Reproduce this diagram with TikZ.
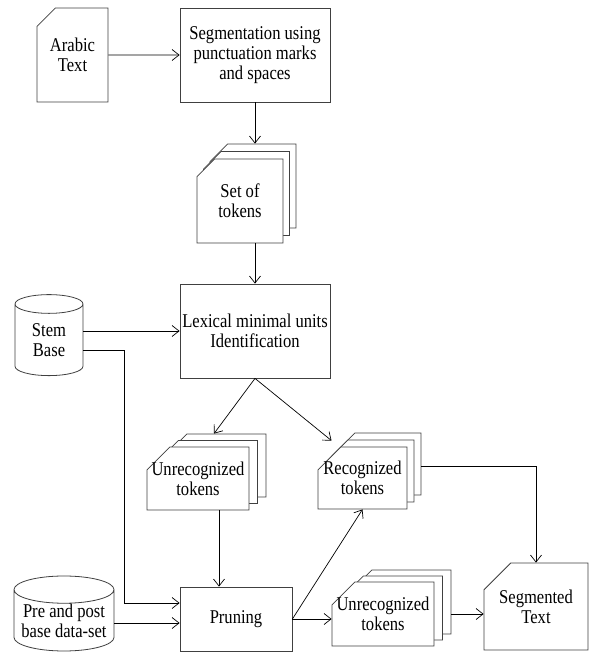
\documentclass[tikz,border=0pt]{standalone}
\usepackage{fontspec}
\setmainfont[FakeStretch=0.85]{Liberation Serif}
\usetikzlibrary{shapes.geometric,shapes.misc,shadows,arrows.meta,calc}
\begin{document}
\begin{tikzpicture}[x=1pt,y=-1pt,
    font=\fontsize{19.5}{20}\selectfont,
    box/.style={draw=black!75,line width=0.8pt,fill=white,align=center,inner sep=2pt},
    card/.style={box,chamfered rectangle,chamfered rectangle corners=north west,
        chamfered rectangle xsep=#1,inner xsep=-#1,inner ysep=-6pt},
    pile/.style 2 args={copy shadow={shadow xshift=2*#1,shadow yshift=2*#2},
        copy shadow={shadow xshift=#1,shadow yshift=#2}},
    base/.style={box,cylinder,shape border rotate=90,inner sep=0pt},
    arr/.style={line width=0.7pt,-{Straight Barb[length=7pt,width=11pt]}}]
    \useasboundingbox (0,0) rectangle (590,660);

    \node[card=15pt,chamfered rectangle ysep=17pt,minimum width=71pt,minimum height=94pt] (arabic) at (72.5,55){Arabic\\Text};
    \node[box,minimum width=150pt,minimum height=94pt] (seg) at (255,55){Segmentation using\\punctuation marks\\and spaces};
    \node[card=15pt,chamfered rectangle ysep=12pt,pile={6.5pt}{7.5pt},minimum width=86pt,minimum height=84pt] (tokset) at (240,201){Set of\\tokens};
    \node[box,minimum width=150pt,minimum height=94pt] (lex) at (255,331){Lexical minimal units\\Identification};
    \node[base,aspect=0.55,minimum width=68pt,minimum height=81pt] (stem) at (49,340){Stem\\Base};
    \node[card=15pt,chamfered rectangle ysep=12pt,pile={8.5pt}{6.5pt},minimum width=102pt,minimum height=63pt] (unrecA) at (198,478.5){Unrecognized\\tokens};
    \node[card=15pt,chamfered rectangle ysep=12pt,pile={7pt}{7pt},minimum width=89pt,minimum height=62pt] (recog) at (362.5,478){Recognized\\tokens};
    \node[base,aspect=0.32,minimum width=100pt,minimum height=75pt] (pre) at (64,620.5){Pre and post\\base data-set};
    \node[box,minimum width=112pt,minimum height=64pt] (prune) at (236,619){Pruning};
    \node[card=15pt,chamfered rectangle ysep=12pt,pile={8.5pt}{6pt},minimum width=102pt,minimum height=64pt] (unrecB) at (383,614){Unrecognized\\tokens};
    \node[card=21pt,chamfered rectangle ysep=17pt,minimum width=104pt,minimum height=87pt] (segtext) at (536,606.5){Segmented\\Text};

    \coordinate (uAout) at ([xshift=21pt]unrecA.south);
    \coordinate (uBout) at ([xshift=17pt]unrecB.east);
    \coordinate (rout) at ([shift={(14,-12)}]recog.east);

    \draw[arr] (arabic) -- (seg);
    \draw[arr] (seg.south) -- ($(seg.south |- tokset.north)+(0,-15)$);
    \draw[arr] (tokset.south -| lex.north) -- (lex.north);
    \draw[arr] (stem.east |- lex.west) -- (lex.west);
    \draw[arr] ([yshift=-10pt]stem.east) -- ++(41,0) |- ([yshift=16pt]prune.west);
    \draw[arr] ($(prune.west -| pre.east)+(0,4)$) -- ($(prune.west)+(0,4)$);
    \draw[arr] (lex.south) -- ([shift={(16,-13)}]unrecA.north);
    \draw[arr] (lex.south) -- ([shift={(-31,-6)}]recog.north);
    \draw[arr] (uAout) -- (uAout |- prune.north);
    \draw[arr] (prune.east) -- (recog.south);
    \draw[arr] (prune.east) -- (prune.east -| unrecB.west);
    \draw[arr] (uBout) -- (uBout -| segtext.west);
    \draw[arr] (rout) -| (segtext.north);
\end{tikzpicture}
\end{document}
